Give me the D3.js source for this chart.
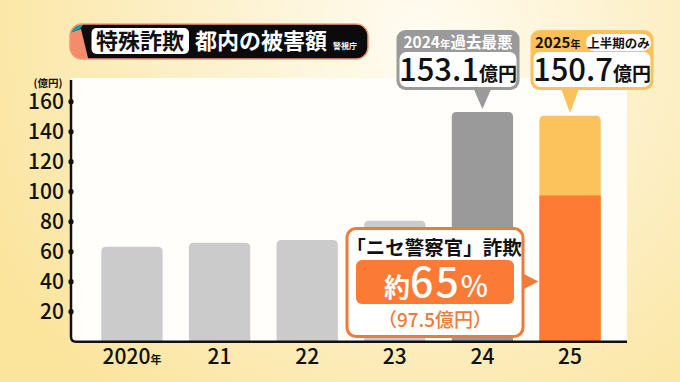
<!DOCTYPE html>
<html lang="ja">
<head>
<meta charset="utf-8">
<title>特殊詐欺 都内の被害額</title>
<script src="https://d3js.org/d3.v7.min.js"></script>
<style>
  body { margin: 0; background: #fdeeb8; }
  svg { display: block; font-family: "Noto Sans CJK JP", "Noto Sans", sans-serif; }
</style>
</head>
<body>
<div id="chart"></div>
<script>
// data
var years = ["2020", "21", "22", "23", "24", "25"];
var damage = [63.3, 66, 67.8, 80.7, 153.1, 150.7];   // 億円
var niseKeisatsu2025 = 97.5;                          // 「ニセ警察官」詐欺 part of 2025
var yTicks = [20, 40, 60, 80, 100, 120, 140, 160];
var barColors = ["#cbcbcb", "#cbcbcb", "#cbcbcb", "#cbcbcb", "#9a9a9a", "#fcc35c"];

var W = 680, H = 382;
var svg = d3.select("#chart").append("svg").attr("width", W).attr("height", H);
var defs = svg.append("defs");

// mixed-size text as separate pieces placed side by side
function runs(g, x0, y0, anchor, parts) {
  var els = parts.map(function (p) {
    return g.append("text").attr("y", y0).attr("font-size", p.size)
      .attr("font-weight", p.weight || 700).attr("fill", p.fill || "#111")
      .attr("letter-spacing", p.ls || null).text(p.t);
  });
  var widths = els.map(function (e) { return e.node().getComputedTextLength(); });
  var total = d3.sum(widths);
  var cx = anchor === "middle" ? x0 - total / 2 : x0;
  els.forEach(function (e, i) { e.attr("x", cx); cx += widths[i]; });
}

// background
var bg = defs.append("radialGradient").attr("id", "bg")
  .attr("gradientUnits", "userSpaceOnUse").attr("cx", 420).attr("cy", 40).attr("r", 480);
bg.append("stop").attr("offset", 0).attr("stop-color", "#fffcf2");
bg.append("stop").attr("offset", 0.5).attr("stop-color", "#fdf0c8");
bg.append("stop").attr("offset", 1).attr("stop-color", "#fbe49c");
svg.append("rect").attr("width", W).attr("height", H).attr("fill", "url(#bg)");

var x = d3.scaleBand().domain(years).range([75, 627]).paddingInner(0.3).paddingOuter(0.3);
var y = d3.scaleLinear().domain([0, 160]).range([341.7, 101.7]);

// plot panel
svg.append("rect").attr("x", 71).attr("y", 78).attr("width", 556).attr("height", y(0) - 78)
  .attr("fill", "#fffefa");

function topRounded(x0, y0, w, h, r) {
  return "M" + x0 + "," + (y0 + h) + "V" + (y0 + r) + "Q" + x0 + "," + y0 + " " + (x0 + r) + "," + y0 +
    "H" + (x0 + w - r) + "Q" + (x0 + w) + "," + y0 + " " + (x0 + w) + "," + (y0 + r) + "V" + (y0 + h) + "Z";
}

// bars
svg.selectAll("path.bar").data(damage).enter().append("path")
  .attr("class", "bar")
  .attr("d", function (d, i) { return topRounded(x(years[i]), y(d), x.bandwidth(), y(0) - y(d), 5); })
  .attr("fill", function (d, i) { return barColors[i]; });

svg.append("rect")
  .attr("x", x("25")).attr("y", y(niseKeisatsu2025))
  .attr("width", x.bandwidth()).attr("height", y(0) - y(niseKeisatsu2025))
  .attr("fill", "#fd7b33");

// axes
svg.append("path")
  .attr("d", "M71,80V" + (y(0) - 5) + "Q71," + y(0) + " 76," + y(0) + "H627")
  .attr("fill", "none").attr("stroke", "#111").attr("stroke-width", 2.5);

svg.selectAll("circle.tick").data(yTicks).enter().append("circle")
  .attr("cx", 71).attr("cy", function (d) { return y(d); }).attr("r", 2.6).attr("fill", "#111");

svg.selectAll("text.ytick").data(yTicks).enter().append("text")
  .attr("x", 64).attr("y", function (d) { return y(d) + 7.5; })
  .attr("text-anchor", "end").attr("font-size", 21).attr("font-weight", 500).attr("fill", "#111")
  .text(function (d) { return d; });

svg.append("text").attr("x", 48).attr("y", 87).attr("text-anchor", "middle")
  .attr("font-size", 10.5).attr("font-weight", 700).attr("fill", "#111").text("(億円)");

years.forEach(function (d, i) {
  var parts = [{ t: d, size: 21, weight: 500 }];
  if (i === 0) parts.push({ t: "年", size: 11 });
  runs(svg, x(d) + x.bandwidth() / 2, 364, "middle", parts);
});

// title banner
var tb = svg.append("g");
defs.append("clipPath").attr("id", "tclip").append("rect")
  .attr("x", 70).attr("y", 24).attr("width", 298).attr("height", 35).attr("rx", 12);
var tg = tb.append("g").attr("clip-path", "url(#tclip)");
tg.append("rect").attr("x", 70).attr("y", 24).attr("width", 298).attr("height", 35).attr("fill", "#0b0b0b");
tg.append("path").attr("d", "M66,34L81,29L89,62L66,62Z").attr("fill", "#f58b6b");
tg.append("path").attr("d", "M66,22L85,22L80,29L66,35Z").attr("fill", "#239a9c");
tb.append("rect").attr("x", 70).attr("y", 24).attr("width", 298).attr("height", 35).attr("rx", 12)
  .attr("fill", "none").attr("stroke", "#f39a78").attr("stroke-width", 1.5);
tb.append("rect").attr("x", 91.5).attr("y", 28).attr("width", 97.5).attr("height", 26).attr("rx", 5).attr("fill", "#fff");
tb.append("text").attr("x", 140).attr("y", 49).attr("text-anchor", "middle")
  .attr("font-size", 22).attr("font-weight", 700).attr("fill", "#111").text("特殊詐欺");
tb.append("text").attr("x", 195).attr("y", 49)
  .attr("font-size", 22).attr("font-weight", 700).attr("fill", "#fff").text("都内の被害額");
tb.append("text").attr("x", 333).attr("y", 49)
  .attr("font-size", 8).attr("font-weight", 700).attr("fill", "#fff").text("警視庁");

// value callouts over 2024 and 2025
function callout(cx, boxX, color, value) {
  var g = svg.append("g");
  var xc = x(cx) + x.bandwidth() / 2;
  var tipY = y(value) - 3;
  g.append("path").attr("d", "M" + (xc - 10) + ",86L" + (xc + 10) + ",86L" + xc + "," + tipY + "Z").attr("fill", color);
  g.append("rect").attr("x", boxX).attr("y", 30).attr("width", 123).attr("height", 60).attr("rx", 9).attr("fill", color);
  g.append("rect").attr("x", boxX + 3).attr("y", 52).attr("width", 117).attr("height", 35).attr("rx", 7).attr("fill", "#fff");
  runs(g, boxX + 61.5, 81, "middle", [
    { t: d3.format(".1f")(value), size: 31, weight: 500 },
    { t: "億円", size: 19 }
  ]);
  return g;
}

var c24 = callout("24", 396.5, "#9a9a9a", damage[4]);
runs(c24, 458, 48, "middle", [
  { t: "2024", size: 15.5, fill: "#fff" },
  { t: "年", size: 10.5, fill: "#fff" },
  { t: "過去最悪", size: 15.5, fill: "#fff" }
]);

var c25 = callout("25", 530.5, "#fcc15a", damage[5]);
runs(c25, 535, 48, "start", [
  { t: "2025", size: 15 },
  { t: "年", size: 10 }
]);
c25.append("rect").attr("x", 586).attr("y", 34).attr("width", 65).attr("height", 17).attr("rx", 8.5).attr("fill", "#fff");
c25.append("text").attr("x", 618.5).attr("y", 47.5).attr("text-anchor", "middle")
  .attr("font-size", 12.5).attr("font-weight", 700).attr("fill", "#111").text("上半期のみ");

// 「ニセ警察官」詐欺 annotation
var share = Math.round(niseKeisatsu2025 / damage[5] * 100);
var an = svg.append("g");
var ay = y(niseKeisatsu2025) + 86;
an.append("path").attr("d", "M521," + (ay - 9) + "L" + (x("25") - 1) + "," + ay + "L521," + (ay + 9) + "Z")
  .attr("fill", "#f07a3a");
an.append("rect").attr("x", 347).attr("y", 228.5).attr("width", 176).attr("height", 108).attr("rx", 9)
  .attr("fill", "#fff").attr("stroke", "#f07a3a").attr("stroke-width", 3);
an.append("text").attr("x", 434).attr("y", 255).attr("text-anchor", "middle")
  .attr("font-size", 19.5).attr("font-weight", 700).attr("fill", "#111").text("「ニセ警察官」詐欺");
an.append("rect").attr("x", 356).attr("y", 260).attr("width", 158).attr("height", 44).attr("rx", 6).attr("fill", "#fb7a35");
runs(an, 436, 297, "middle", [
  { t: "約", size: 26, fill: "#fff" },
  { t: String(share), size: 41, weight: 500, fill: "#fff", ls: 2 },
  { t: "%", size: 29, weight: 500, fill: "#fff" }
]);
an.append("text").attr("x", 435).attr("y", 327).attr("text-anchor", "middle")
  .attr("font-size", 19).attr("font-weight", 500).attr("fill", "#f07a3a")
  .text("（" + niseKeisatsu2025 + "億円）");
</script>
</body>
</html>
